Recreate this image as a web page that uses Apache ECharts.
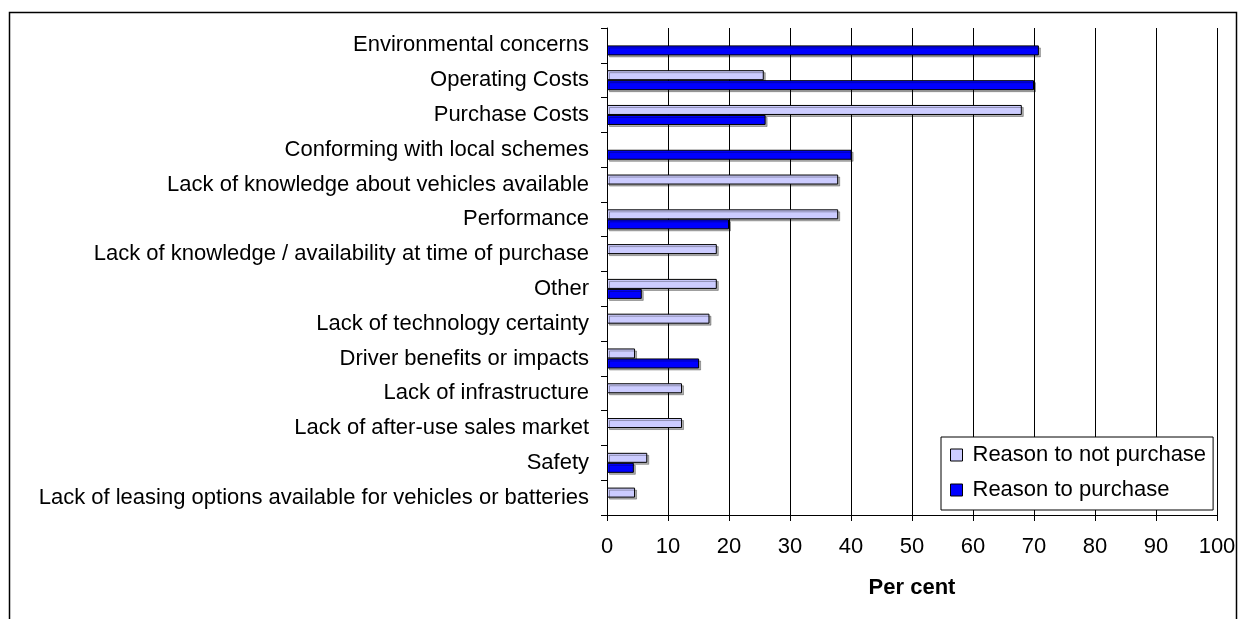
<!DOCTYPE html>
<html>
<head>
<meta charset="utf-8">
<script src="https://cdn.jsdelivr.net/npm/echarts@6/dist/echarts.min.js"></script>
<style>
html,body{margin:0;padding:0;background:#fff;}
#chart{width:1243px;height:619px;}
</style>
</head>
<body>
<div id="chart"></div>
<script>
const categories = [
  'Environmental concerns',
  'Operating Costs',
  'Purchase Costs',
  'Conforming with local schemes',
  'Lack of knowledge about vehicles available',
  'Performance',
  'Lack of knowledge / availability at time of purchase',
  'Other',
  'Lack of technology certainty',
  'Driver benefits or impacts',
  'Lack of infrastructure',
  'Lack of after-use sales market',
  'Safety',
  'Lack of leasing options available for vehicles or batteries'
];
const reasonNotPurchase = [null, 25.7, 68.0, null, 37.9, 37.9, 18.0, 18.0, 16.8, 4.6, 12.3, 12.3, 6.6, 4.6];
const reasonPurchase = [70.8, 70.0, 26.0, 40.1, null, 20.0, null, 5.7, null, 15.1, null, null, 4.4, null];
const xTicks = [0, 100, 10];
const seriesNames = ['Reason to not purchase', 'Reason to purchase'];

const FONT = '"Liberation Sans", Arial, sans-serif';
const chart = echarts.init(document.getElementById('chart'));
const barStyle = (color) => ({
  color: color,
  borderColor: '#000',
  borderWidth: 1,
  shadowColor: 'rgba(0,0,0,0.3)',
  shadowOffsetX: 2,
  shadowOffsetY: 2,
  shadowBlur: 0
});
chart.setOption({
  animation: false,
  backgroundColor: '#fff',
  textStyle: { fontFamily: FONT },
  graphic: [{
    type: 'rect',
    left: 7, top: 10,
    shape: { width: 1227, height: 700 },
    style: { fill: 'none', stroke: '#000', lineWidth: 1.5 },
    z: 100
  }],
  grid: { left: 607, right: 26, top: 28, bottom: 104, containLabel: false },
  legend: {
    orient: 'vertical',
    left: 941, top: 437,
    backgroundColor: '#fff',
    borderColor: '#000',
    borderWidth: 1,
    padding: [6, 7, 8, 9],
    itemWidth: 12, itemHeight: 12,
    itemGap: 11,
    icon: 'rect',
    itemStyle: { borderColor: '#000', borderWidth: 1, shadowBlur: 0, shadowOffsetX: 0, shadowOffsetY: 0, shadowColor: 'transparent' },
    textStyle: { fontFamily: FONT, fontSize: 22, color: '#000', lineHeight: 24, padding: [0, 0, 0, 5] },
    data: seriesNames
  },
  xAxis: {
    type: 'value',
    min: xTicks[0], max: xTicks[1], interval: xTicks[2],
    name: 'Per cent',
    nameLocation: 'middle',
    nameGap: 62,
    nameTextStyle: { fontFamily: FONT, fontSize: 22, fontWeight: 'bold', color: '#000' },
    axisLine: { show: true, lineStyle: { color: '#000', width: 1 } },
    axisTick: { show: true, length: 6, lineStyle: { color: '#000' } },
    axisLabel: { fontFamily: FONT, fontSize: 22, color: '#000', margin: 21 },
    splitLine: { show: true, lineStyle: { color: '#000', width: 1 } }
  },
  yAxis: {
    type: 'category',
    inverse: true,
    data: categories,
    axisLine: { show: true, lineStyle: { color: '#000', width: 1 } },
    axisTick: { show: true, length: 6, lineStyle: { color: '#000' } },
    axisLabel: { fontFamily: FONT, fontSize: 22, color: '#000', margin: 18 },
    splitLine: { show: false }
  },
  series: [
    {
      name: seriesNames[0], type: 'bar', data: reasonNotPurchase,
      barWidth: 10, barGap: '0%',
      itemStyle: barStyle('#CCCCFF')
    },
    {
      name: seriesNames[1], type: 'bar', data: reasonPurchase,
      barWidth: 10, barGap: '0%',
      itemStyle: barStyle('#0000FF')
    }
  ]
});
</script>
</body>
</html>
